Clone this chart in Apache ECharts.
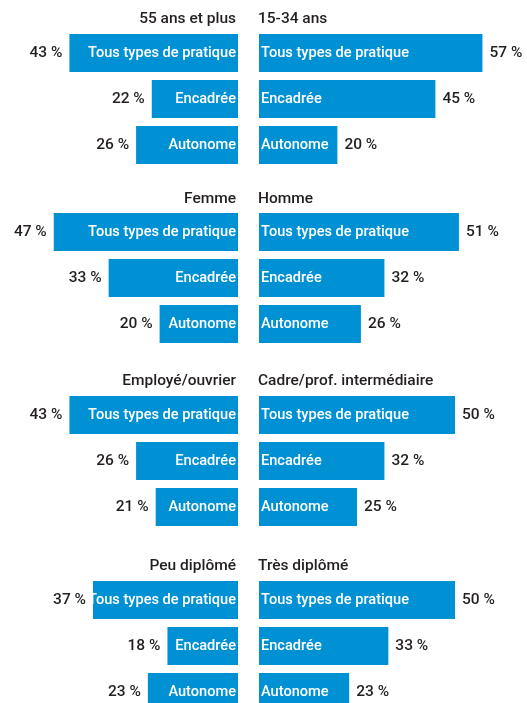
<!DOCTYPE html>
<html>
<head>
<meta charset="utf-8">
<script src="https://cdn.jsdelivr.net/npm/echarts@6/dist/echarts.min.js"></script>
<style>
  html, body { margin: 0; padding: 0; background: #fff; }
  #main { width: 527px; height: 703px; }
</style>
</head>
<body>
<div id="main"></div>
<script>
// categories (top to bottom in each block)
var categories = ['Tous types de pratique', 'Encadrée', 'Autonome'];

// block titles
var leftTitles = ['55 ans et plus', 'Femme', 'Employé/ouvrier', 'Peu diplômé'];
var rightTitles = ['15-34 ans', 'Homme', 'Cadre/prof. intermédiaire', 'Très diplômé'];

// values in %
var leftValues = [
  [43, 22, 26],
  [47, 33, 20],
  [43, 26, 21],
  [37, 18, 23]
];
var rightValues = [
  [57, 45, 20],
  [51, 32, 26],
  [50, 32, 25],
  [50, 33, 23]
];

var FONT = "Roboto, 'DejaVu Sans Condensed', sans-serif";
var BAR_FS = 14.6;   // must fit inside the bars like the original condensed face
var TXT_FS = 15.5;
var BLUE = '#0091d5';
var DARK = '#231f20';

// layout of the blocks (px)
var gridTops = [30, 209, 392, 577];
var titleTops = [11, 191, 373, 558];
var centerL = 238, centerR = 259, axisMax = 60, pxPerUnit = 3.92;
var halfWidth = axisMax * pxPerUnit;

var grids = [], xAxes = [], yAxes = [], series = [], titles = [];

for (var g = 0; g < 4; g++) {
  for (var side = 0; side < 2; side++) {
    var idx = g * 2 + side;
    var isLeft = side === 0;
    grids.push({
      top: gridTops[g],
      height: 138,
      left: isLeft ? centerL - halfWidth : centerR,
      width: halfWidth,
      containLabel: false,
      outerBoundsMode: 'none'
    });
    xAxes.push({
      gridIndex: idx,
      type: 'value',
      min: 0,
      max: axisMax,
      inverse: isLeft,
      show: false
    });
    yAxes.push({
      gridIndex: idx,
      type: 'category',
      data: categories,
      inverse: true,
      show: false
    });
    var vals = isLeft ? leftValues[g] : rightValues[g];
    // bars with the category name inside
    series.push({
      type: 'bar',
      xAxisIndex: idx,
      yAxisIndex: idx,
      data: vals,
      barWidth: 38,
      itemStyle: { color: BLUE },
      silent: true,
      label: {
        show: true,
        position: isLeft ? 'insideRight' : 'insideLeft',
        distance: 2,
        color: '#fff',
        fontFamily: FONT,
        fontWeight: 500,
        fontSize: BAR_FS,
        formatter: function (p) { return p.name; }
      }
    });
    // same values, transparent, only carrying the % label outside
    series.push({
      type: 'bar',
      xAxisIndex: idx,
      yAxisIndex: idx,
      data: vals,
      barWidth: 38,
      barGap: '-100%',
      itemStyle: { color: 'rgba(0,0,0,0)' },
      silent: true,
      label: {
        show: true,
        position: isLeft ? 'left' : 'right',
        distance: 7,
        color: DARK,
        fontFamily: FONT,
        fontWeight: 500,
        fontSize: TXT_FS,
        formatter: function (p) { return p.value + ' %'; }
      }
    });
  }
  titles.push({
    text: leftTitles[g],
    right: 527 - centerL + 2,
    top: titleTops[g],
    padding: 0,
    textStyle: { color: DARK, fontFamily: FONT, fontSize: TXT_FS, fontWeight: 500 }
  });
  titles.push({
    text: rightTitles[g],
    left: centerR - 1,
    top: titleTops[g],
    padding: 0,
    textStyle: { color: DARK, fontFamily: FONT, fontSize: TXT_FS, fontWeight: 500 }
  });
}

var chart = echarts.init(document.getElementById('main'));
chart.setOption({
  animation: false,
  backgroundColor: '#fff',
  title: titles,
  grid: grids,
  xAxis: xAxes,
  yAxis: yAxes,
  series: series
});
</script>
</body>
</html>
